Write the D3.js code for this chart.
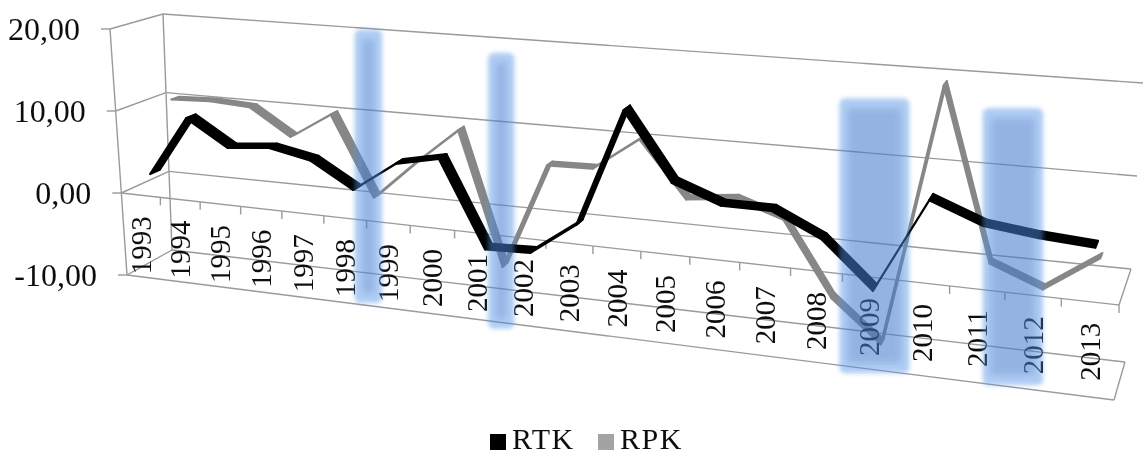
<!DOCTYPE html>
<html><head><meta charset="utf-8">
<script src="https://cdnjs.cloudflare.com/ajax/libs/d3/7.8.5/d3.min.js"></script>
<style>html,body{margin:0;padding:0;background:#fff;overflow:hidden}svg{display:block}</style>
</head><body><svg id="c" width="1146" height="456"></svg>
<script>
const years=[1993,1994,1995,1996,1997,1998,1999,2000,2001,2002,2003,2004,2005,2006,2007,2008,2009,2010,2011,2012,2013];
const RTK=[2.0,9.3,6.2,6.7,5.7,2.7,6.3,7.4,-2.6,-2.4,1.4,15.0,7.3,5.3,5.3,2.7,-2.3,8.2,6.0,5.3,4.9];
const RPK=[10.0,10.2,9.9,6.7,9.9,0.3,5.0,9.4,-6.3,6.2,6.3,10.2,3.8,4.4,2.6,-5.6,-10.1,19.1,0.1,-2.1,1.9];
const yTicks=[20,10,0,-10];
const yLabels=["20,00","10,00","0,00","-10,00"];
const bandFrom=[5.72,8.74,15.94,18.6];
const bandTo=[6.36,9.32,17.26,19.68];
const bandHigh=[22.3,20.9,19.2,19.5];
const bandLow=[-9.9,-10.9,-10.9,-10.25];

// Projected box of the 3D chart
const vT=d3.scaleLinear().domain([20,-10]).range([0,1]);
const catT=c=>{const u=c/years.length;return .815*u/(1-.185*u);};
const L=(a,b,t)=>a+(b-a)*t;
const box={fl:[[110,29],[127,275]],fr:[[1129,115],[1114,400]],bl:[[163,14],[172,250]],br:[[1143,83],[1125,362]]};
function P(c,v,d){
  const t=vT(v),f=catT(c);
  const e=k=>[L(box[k][0][0],box[k][1][0],t),L(box[k][0][1],box[k][1][1],t)];
  const a=e("fl"),b=e("fr"),g=e("bl"),h=e("br");
  const fx=L(a[0],b[0],f),fy=L(a[1],b[1],f),bx=L(g[0],h[0],f),by=L(g[1],h[1],f);
  return [L(fx,bx,d),L(fy,by,d)];
}
const n=years.length;
const svg=d3.select("#c");
const defs=svg.append("defs");
defs.append("filter").attr("id","soft").attr("x","-5%").attr("y","-5%").attr("width","110%").attr("height","110%")
  .append("feGaussianBlur").attr("stdDeviation",.55);
defs.append("filter").attr("id","glow").attr("x","-30%").attr("y","-10%").attr("width","160%").attr("height","120%")
  .append("feGaussianBlur").attr("stdDeviation",2);
defs.append("filter").attr("id","glow2").attr("x","-60%").attr("y","-20%").attr("width","220%").attr("height","140%")
  .append("feGaussianBlur").attr("stdDeviation",3);
const root=svg.append("g").attr("filter","url(#soft)");
const line=d3.line();
const gridColor="#9a9a9a";
const seg=(a,b,w=1.4)=>root.append("path").attr("d",line([a,b])).attr("stroke",gridColor).attr("stroke-width",w).attr("fill","none");

// walls
yTicks.forEach(v=>{
  seg(P(0,v,1),P(n,v,1));
  seg(P(0,v,0),P(0,v,1));
  const a=P(0,v,0); seg([a[0]-9,a[1]],a);
});
seg(P(0,20,0),P(0,-10,0));
seg(P(0,20,1),P(0,-10,1));
seg(P(0,0,0),P(n,0,0));
seg(P(0,-10,0),P(n,-10,0));
seg(P(n,0,0),P(n,0,1));
seg(P(n,-10,0),P(n,-10,1));
d3.range(1,n+1).forEach(i=>{const a=P(i,0,0);seg(a,[a[0],a[1]+8]);});

// ribbons
function ribbon(vals,d1,d2,color,w){
  const g=root.append("g");
  d3.pairs(vals.map((v,i)=>[i+.5,v])).forEach(([p,q])=>{
    g.append("path").attr("d",line([P(p[0],p[1],d1),P(q[0],q[1],d1),P(q[0],q[1],d2),P(p[0],p[1],d2)])+"Z")
     .attr("fill",color).attr("stroke",color).attr("stroke-width",w).attr("stroke-linejoin","round");
  });
}
ribbon(RPK,.72,.88,"#878787",1.8);
ribbon(RTK,.22,.42,"#000",2.2);

// labels
const font="'Liberation Serif','Times New Roman',serif";
years.forEach((y,i)=>{
  const a=P(i+.5,0,0);
  root.append("text").attr("transform",`translate(${a[0]},${a[1]+21}) rotate(-90)`)
    .attr("text-anchor","end").attr("dominant-baseline","central")
    .attr("font-family",font).attr("font-size",29).attr("fill","#111").text(y);
});
yTicks.forEach((v,i)=>{
  const a=P(0,v,0);
  root.append("text").attr("x",a[0]-30).attr("y",a[1]).attr("text-anchor","end").attr("dominant-baseline","central")
    .attr("font-family",font).attr("font-size",32).attr("fill","#111").text(yLabels[i]);
});

// highlight bands
bandFrom.forEach((c,i)=>{
  const x0=P(c,0,0)[0],x1=P(bandTo[i],0,0)[0],y0=P(c,bandHigh[i],0)[1],y1=P(c,bandLow[i],0)[1];
  svg.append("rect").attr("x",x0).attr("y",y0).attr("width",x1-x0).attr("height",y1-y0).attr("rx",6)
    .attr("fill","rgb(80,145,230)").attr("fill-opacity",.46).attr("filter","url(#glow)");
  svg.append("rect").attr("x",x0+8).attr("y",y0+10).attr("width",Math.max(5,x1-x0-16)).attr("height",y1-y0-20)
    .attr("fill","rgb(30,80,160)").attr("fill-opacity",.2).attr("filter","url(#glow2)");
});

// legend
const lg=svg.append("g").attr("filter","url(#soft)");
const keys=[["RTK","#000",490,512],["RPK","#a3a3a3",598,620]];
keys.forEach(k=>{
  lg.append("rect").attr("x",k[2]).attr("y",434).attr("width",16).attr("height",16).attr("fill",k[1]);
  lg.append("text").attr("x",k[3]).attr("y",449).attr("letter-spacing",1.5)
    .attr("font-family",font).attr("font-size",30).attr("fill","#111").text(k[0]);
});
</script></body></html>
